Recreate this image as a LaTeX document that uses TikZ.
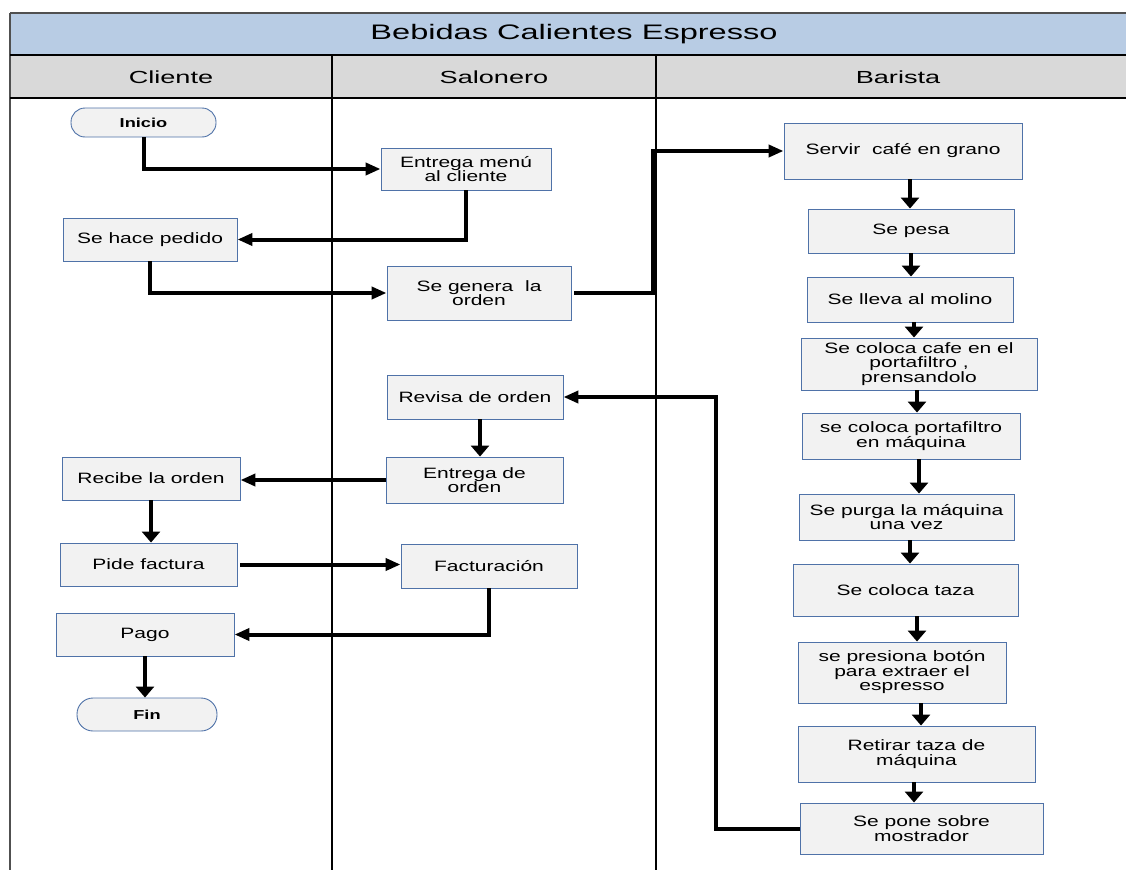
\documentclass[tikz,border=0pt]{standalone}
\usepackage{fontspec}
\setmainfont{Liberation Sans}
\newfontfamily\boxfont{Liberation Sans}[FakeStretch=1.4]
\newfontfamily\headfont{Liberation Sans}[FakeStretch=1.55]
\usetikzlibrary{arrows.meta}
\definecolor{titlebg}{HTML}{B8CCE4}
\definecolor{headbg}{HTML}{D9D9D9}
\definecolor{boxfill}{HTML}{F2F2F2}
\definecolor{boxblue}{RGB}{79,114,168}
\definecolor{frame}{HTML}{505050}
\tikzset{
  proc/.style={draw=boxblue, line width=0.9pt, fill=boxfill, inner sep=0pt, align=center,
    font=\boxfont\fontsize{15}{14.5}\selectfont},
  term/.style={proc, rounded corners=14pt, font=\boxfont\bfseries\fontsize{13}{13}\selectfont},
  conn/.style={line width=4pt, line join=miter},
  harr/.style={conn, -{Triangle[length=15pt,width=12pt]}},
  varr/.style={conn, -{Triangle[length=11pt,width=18pt]}},
  lanehead/.style={font=\headfont\fontsize{17.5}{17.5}\selectfont, inner sep=0pt},
}
\begin{document}
\begin{tikzpicture}[x=1pt,y=-1pt]
\useasboundingbox (0,0) rectangle (1126,870);
% bands
\fill[titlebg] (10,13) rectangle (1126,55);
\fill[headbg] (10,55) rectangle (1126,98);
\draw[frame, line width=1.3pt] (10,13) -- (1126,13);
\draw[frame, line width=1.5pt] (10,13) -- (10,870);
\draw[black, line width=2pt] (10,55) -- (1126,55);
\draw[black, line width=2pt] (10,98) -- (1126,98);
\draw[black, line width=2pt] (332,55) -- (332,870);
\draw[black, line width=2pt] (656,55) -- (656,870);
\node[font=\headfont\fontsize{21}{21}\selectfont, inner sep=0pt] (title) at (574,34) {Bebidas Calientes Espresso};
\node[lanehead] (hcli) at (171,77) {Cliente};
\node[lanehead] (hsal) at (494,77) {Salonero};
\node[lanehead] (hbar) at (898,77) {Barista};

% Cliente lane
\node[term, minimum width=145pt, minimum height=29pt] (ini) at (143.5,122.5) {Inicio};
\node[proc, minimum width=174pt, minimum height=43pt] (hp) at (150,239.5) {Se hace pedido};
\node[proc, minimum width=178pt, minimum height=43pt] (ro) at (151,478.5) {Recibe la orden};
\node[proc, minimum width=177pt, minimum height=43pt] (pf) at (148.5,564.5) {Pide factura};
\node[proc, minimum width=178pt, minimum height=43pt] (pg) at (145,634.5) {Pago};
\node[term, minimum width=140pt, minimum height=33pt, rounded corners=16pt] (fin) at (147,714.5) {Fin};

% Salonero lane
\node[proc, minimum width=170pt, minimum height=42pt] (em) at (466,169) {Entrega menú\\al cliente};
\node[proc, minimum width=184pt, minimum height=54pt] (sg) at (479,293) {Se genera\ \ la\\orden};
\node[proc, minimum width=176pt, minimum height=44pt] (rv) at (475,397) {Revisa de orden};
\node[proc, minimum width=177pt, minimum height=46pt] (eo) at (474.5,480) {Entrega de\\orden};
\node[proc, minimum width=176pt, minimum height=44pt] (fa) at (489,566) {Facturación};

% Barista lane
\node[proc, minimum width=238pt, minimum height=56pt] (sv) at (903,151) {Servir\ \ café en grano};
\node[proc, minimum width=206pt, minimum height=44pt] (pe) at (911,231) {Se pesa};
\node[proc, minimum width=206pt, minimum height=45pt] (mo) at (910,299.5) {Se lleva al molino};
\node[proc, minimum width=236pt, minimum height=52pt] (cc) at (919,364) {Se coloca cafe en el\\portafiltro ,\\prensandolo};
\node[proc, minimum width=218pt, minimum height=46pt] (cp) at (911,436) {se coloca portafiltro\\en máquina};
\node[proc, minimum width=215pt, minimum height=46pt] (pu) at (906.5,517) {Se purga la máquina\\una vez};
\node[proc, minimum width=225pt, minimum height=52pt] (ct) at (905.5,590) {Se coloca taza};
\node[proc, minimum width=208pt, minimum height=61pt] (pb) at (902,672.5) {se presiona botón\\para extraer el\\espresso};
\node[proc, minimum width=237pt, minimum height=56pt] (rt) at (916.5,754) {Retirar taza de\\máquina};
\node[proc, minimum width=243pt, minimum height=51pt] (sp) at (921.5,828.5) {Se pone sobre\\mostrador};

% helper coordinates
\coordinate (j1) at (653,222);
\coordinate (j2) at (716,600);
\coordinate (v1) at (910,0);
\coordinate (v2) at (911,0);
\coordinate (v3) at (914,0);
\coordinate (v4) at (917,0);
\coordinate (v5) at (919,0);
\coordinate (v6) at (910,0);
\coordinate (v7) at (917,0);
\coordinate (v8) at (921,0);
\coordinate (v9) at (914,0);
\coordinate (va) at (480,0);

% connectors
\draw[harr] (ini.south) |- (em.west);
\draw[harr] (em.south) |- (hp.east);
\draw[harr] (hp.south) |- (sg.west);
\draw[harr] ([xshift=3pt]sg.east) -| (j1) |- (sv.west);
\draw[harr] (sp.west) -| (j2) |- (rv.east);
\draw[varr] (rv.south -| va) -- (eo.north -| va);
\draw[harr] (eo.west) -- (eo.west -| ro.east);
\draw[varr] (ro.south) -- (pf.north -| ro.south);
\draw[harr] ([xshift=3pt]pf.east) -- (pf.east -| fa.west);
\draw[harr] (fa.south) |- (pg.east);
\draw[varr] (pg.south) -- (fin.north -| pg.south);

\draw[varr] (sv.south -| v1) -- (pe.north -| v1);
\draw[varr] (pe.south -| v2) -- (mo.north -| v2);
\draw[varr] (mo.south -| v3) -- (cc.north -| v3);
\draw[varr] (cc.south -| v4) -- (cp.north -| v4);
\draw[varr] (cp.south -| v5) -- (pu.north -| v5);
\draw[varr] (pu.south -| v6) -- (ct.north -| v6);
\draw[varr] (ct.south -| v7) -- (pb.north -| v7);
\draw[varr] (pb.south -| v8) -- (rt.north -| v8);
\draw[varr] (rt.south -| v9) -- (sp.north -| v9);
\end{tikzpicture}
\end{document}
